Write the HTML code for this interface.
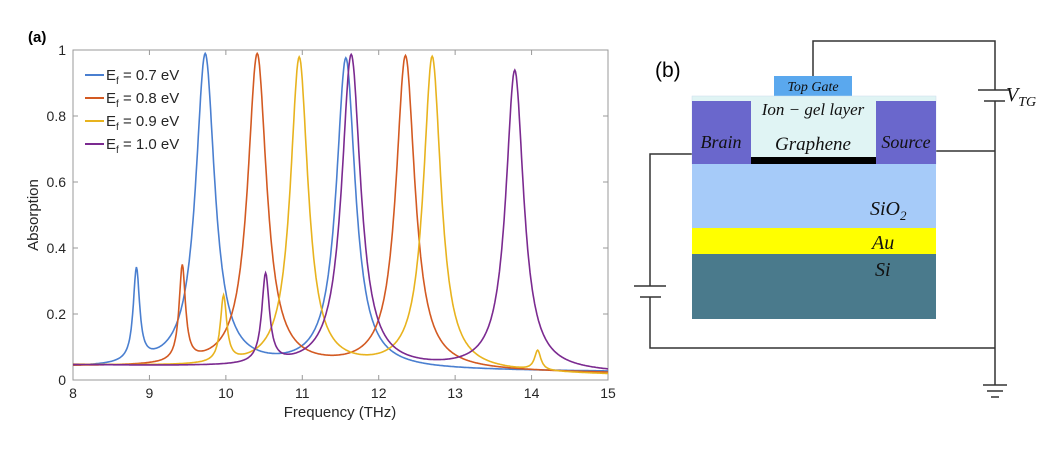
<!DOCTYPE html><html><head><style>body{margin:0;background:#fff}.sa{font-family:"Liberation Sans",sans-serif}.se{font-family:"Liberation Serif",serif;font-style:italic}</style></head><body>
<svg id="s" width="1049" height="454" xmlns="http://www.w3.org/2000/svg" class="sa">
<text x="28" y="42" font-size="15" font-weight="bold">(a)</text>
<g id="grid" stroke="#999" stroke-width="1"></g>
<rect x="73" y="50" width="535" height="330" fill="none" stroke="#999"/>
<g id="ticks" font-size="14" fill="#262626"></g>
<g id="curves" fill="none" stroke-width="1.6"></g>
<text x="340" y="417" font-size="15" text-anchor="middle" fill="#262626">Frequency (THz)</text>
<text transform="translate(38,215) rotate(-90)" font-size="15" text-anchor="middle" fill="#262626">Absorption</text>
<g font-size="15" fill="#262626">
<line x1="85" y1="75" x2="104" y2="75" stroke="#4a7fd0" stroke-width="2"/><text x="106" y="80">E<tspan font-size="10" dy="4">f</tspan><tspan dy="-4"> = 0.7 eV</tspan></text>
<line x1="85" y1="98" x2="104" y2="98" stroke="#d35a22" stroke-width="2"/><text x="106" y="103">E<tspan font-size="10" dy="4">f</tspan><tspan dy="-4"> = 0.8 eV</tspan></text>
<line x1="85" y1="121" x2="104" y2="121" stroke="#e8b31e" stroke-width="2"/><text x="106" y="126">E<tspan font-size="10" dy="4">f</tspan><tspan dy="-4"> = 0.9 eV</tspan></text>
<line x1="85" y1="144" x2="104" y2="144" stroke="#7b2a90" stroke-width="2"/><text x="106" y="149">E<tspan font-size="10" dy="4">f</tspan><tspan dy="-4"> = 1.0 eV</tspan></text>
</g>
<text x="655" y="77" font-size="21">(b)</text>
<g stroke="#333" stroke-width="1.5" fill="none">
<polyline points="813,76 813,41 995,41 995,90"/>
<polyline points="995,101 995,385"/>
<line x1="978" y1="90" x2="1010" y2="90"/><line x1="984" y1="101" x2="1005" y2="101"/>
<polyline points="936,151 995,151"/>
<polyline points="692,154 650,154 650,286"/>
<polyline points="650,297 650,348 995,348"/>
<line x1="634" y1="286" x2="666" y2="286"/><line x1="640" y1="297" x2="661" y2="297"/>
<line x1="983" y1="385" x2="1007" y2="385"/><line x1="987" y1="391" x2="1003" y2="391"/><line x1="991" y1="397" x2="999" y2="397"/>
</g>
<rect x="774" y="76" width="78" height="20" fill="#5aa8ee"/>
<rect x="692" y="96" width="244" height="68" fill="#e0f4f4" stroke="#cde" stroke-width="0.5"/>
<rect x="692" y="101" width="59" height="63" fill="#6a67cc"/>
<rect x="876" y="101" width="60" height="63" fill="#6a67cc"/>
<rect x="751" y="157" width="125" height="7" fill="#000"/>
<rect x="692" y="164" width="244" height="64" fill="#a6cbf9"/>
<rect x="692" y="228" width="244" height="26" fill="#ffff00"/>
<rect x="692" y="254" width="244" height="65" fill="#4a7a8c"/>
<g class="se" fill="#111">
<text x="813" y="91" font-size="14" text-anchor="middle">Top Gate</text>
<text x="813" y="115" font-size="17" text-anchor="middle">Ion − gel  layer</text>
<text x="813" y="150" font-size="19" text-anchor="middle">Graphene</text>
<text x="721" y="148" font-size="18" text-anchor="middle">Brain</text>
<text x="906" y="148" font-size="18" text-anchor="middle">Source</text>
<text x="870" y="215" font-size="20">SiO<tspan font-size="13" dy="5">2</tspan></text>
<text x="872" y="249" font-size="20">Au</text>
<text x="875" y="276" font-size="20">Si</text>
<text x="1006" y="101" font-size="20">V<tspan font-size="14" dy="5">TG</tspan></text>
</g>
</svg>
<script>
const X=f=>73+(f-8)/7*535, Y=v=>380-v*330;
let g=document.getElementById('grid'),t=document.getElementById('ticks'),h='',tt='';
for(let f=8;f<=15;f++){h+=`<line x1="${X(f)}" y1="380" x2="${X(f)}" y2="375"/><line x1="${X(f)}" y1="50" x2="${X(f)}" y2="55"/>`;tt+=`<text x="${X(f)}" y="398" text-anchor="middle">${f}</text>`;}
for(let i=0;i<=5;i++){let v=i*0.2;h+=`<line x1="73" y1="${Y(v)}" x2="78" y2="${Y(v)}"/><line x1="603" y1="${Y(v)}" x2="608" y2="${Y(v)}"/>`;tt+=`<text x="66" y="${Y(v)+5}" text-anchor="end">${i==0?'0':i==5?'1':v.toFixed(1)}</text>`;}
g.innerHTML=h;t.innerHTML=tt;
const S=[
['#4a7fd0',0.035,[[8.83,0.28,0.05],[9.73,0.95,0.15],[11.57,0.94,0.15]],-0.01],
['#d35a22',0.04,[[9.43,0.29,0.05],[10.41,0.95,0.15],[12.35,0.95,0.15]],-0.02],
['#e8b31e',0.045,[[9.97,0.2,0.05],[10.96,0.94,0.14],[12.7,0.95,0.14],[14.08,0.06,0.05]],-0.03],
['#7b2a90',0.045,[[10.52,0.27,0.06],[11.64,0.95,0.15],[13.78,0.91,0.14]],-0.025]];
let c='';
for(const [col,b,P,sl] of S){let d='';for(let f=8;f<=15.0001;f+=0.01){let v=b+sl*(f-8)/7;for(const [f0,A,w] of P)v+=A/(1+((f-f0)/w)**2);v=Math.min(v,0.995);d+=(d?'L':'M')+X(f).toFixed(1)+','+Y(v).toFixed(1);}c+=`<path d="${d}" stroke="${col}"/>`;}
document.getElementById('curves').innerHTML=c;
</script>
</body></html>
